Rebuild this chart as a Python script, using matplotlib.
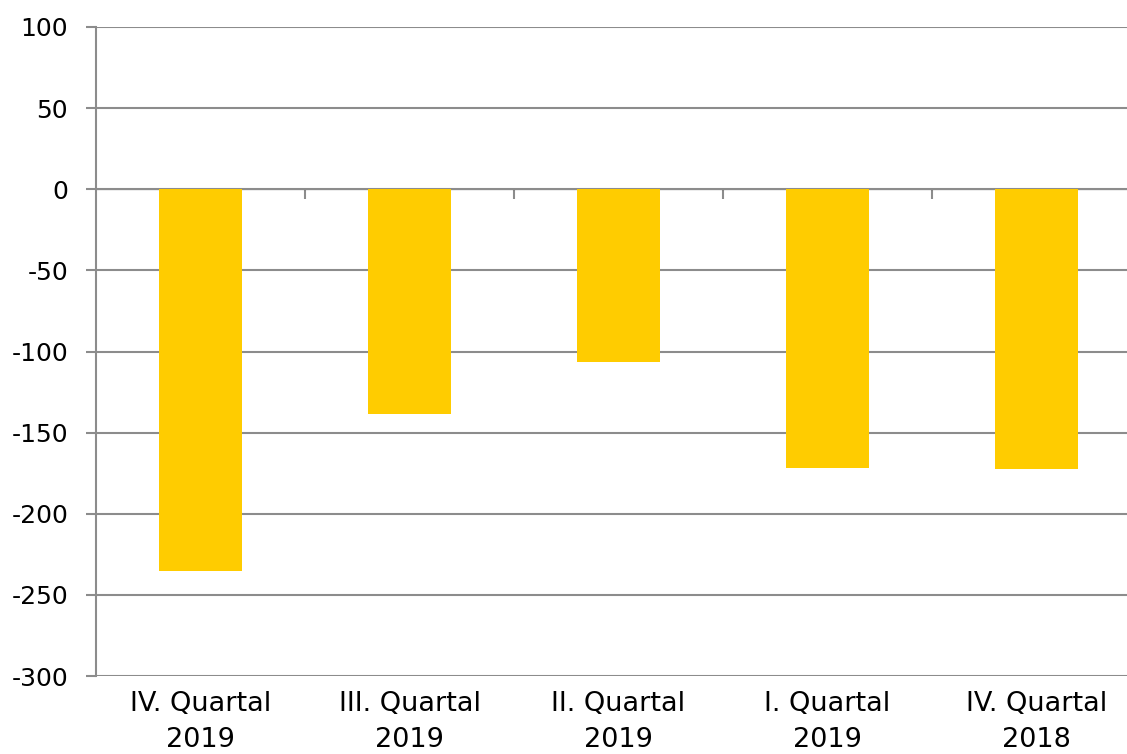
import matplotlib.pyplot as plt
import numpy as np

categories = ['IV. Quartal\n2019', 'III. Quartal\n2019', 'II. Quartal\n2019', 'I. Quartal\n2019', 'IV. Quartal\n2018']
values = [-235.5, -138.5, -106.5, -171.5, -172.5]
yticks = [-300, -250, -200, -150, -100, -50, 0, 50, 100]

plt.rcParams['font.family'] = ['DejaVu Sans']
grey = '#8c8c8c'

fig = plt.figure(figsize=(11.27, 7.54), dpi=100)
# the original plot runs a bit past the right edge of the picture
ax = fig.add_axes([0.0852, 0.1034, 0.9272, 0.8608])

x = np.arange(len(categories))
ax.bar(x, values, width=0.40, color='#ffcc00', zorder=3)

ax.set_xlim(-0.5, len(categories) - 0.5)
ax.set_ylim(-300, 100)
ax.set_yticks(yticks)
ax.set_yticklabels([str(v) for v in yticks], fontsize=18)
ax.yaxis.grid(True, color=grey, linewidth=1.5, zorder=0)
ax.tick_params(axis='y', length=7, width=1.5, color=grey, pad=13)

# category labels at the bottom, no ticks
ax.set_xticks(x)
ax.set_xticklabels(categories, fontsize=19.5, linespacing=1.5)
ax.tick_params(axis='x', length=0, pad=11)

for side in ['top', 'right', 'bottom']:
    ax.spines[side].set_visible(False)
ax.spines['left'].set_color(grey)
ax.spines['left'].set_linewidth(1.5)

# zero line with ticks at the category boundaries
sec = ax.secondary_xaxis(0.75)
sec.set_xticks(x[:-1] + 0.5)
sec.set_xticklabels([])
sec.tick_params(length=7, width=1.5, color=grey, direction='in')
sec.spines['bottom'].set_color(grey)
sec.spines['bottom'].set_linewidth(1.5)

fig.savefig('out.png', dpi=100)
